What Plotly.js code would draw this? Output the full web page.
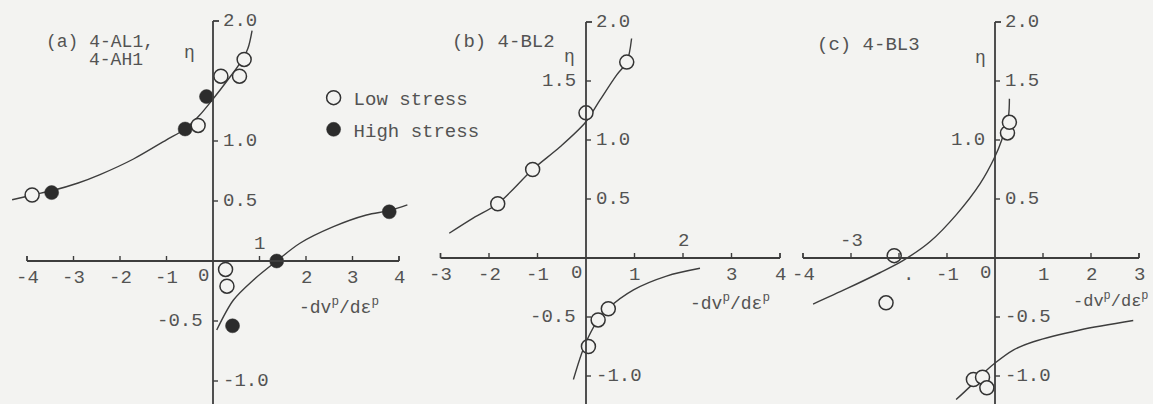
<!DOCTYPE html>
<html>
<head>
<meta charset="utf-8">
<script src="https://cdn.plot.ly/plotly-3.0.1.min.js"></script>
<style>
  html, body { margin: 0; padding: 0; background: #f3f3f1; }
  #chart { width: 1153px; height: 404px; }
</style>
</head>
<body>
<div id="chart"></div>
<script>
// ---- Panel (a): 4-AL1, 4-AH1 ----
const aLowX  = [-3.89, -0.32, 0.17, 0.57, 0.67, 0.27, 0.30];
const aLowY  = [0.55, 1.13, 1.54, 1.54, 1.68, -0.07, -0.21];
const aHighX = [-3.47, -0.60, -0.14, 1.37, 3.79, 0.42];
const aHighY = [0.57, 1.10, 1.37, 0.00, 0.41, -0.54];
const aUpperX = [-4.32, -3.89, -3.47, -2.90, -2.43, -1.71, -1.00, -0.60, -0.30, 0.00, 0.30, 0.60, 0.75, 0.84];
const aUpperY = [0.51, 0.55, 0.585, 0.65, 0.72, 0.85, 1.01, 1.10, 1.21, 1.35, 1.50, 1.66, 1.77, 1.92];
const aLowerX = [0.08, 0.44, 0.87, 1.37, 1.87, 2.59, 3.30, 3.79, 4.18];
const aLowerY = [-0.575, -0.325, -0.158, 0.00, 0.148, 0.286, 0.383, 0.42, 0.467];

// ---- Panel (b): 4-BL2 ----
const bLowX = [-1.82, -1.10, 0.00, 0.84, 0.46, 0.25, 0.05];
const bLowY = [0.46, 0.75, 1.23, 1.66, -0.43, -0.525, -0.75];
const bUpperX = [-2.82, -2.32, -1.82, -1.10, -0.54, -0.01, 0.29, 0.63, 0.84, 0.94];
const bUpperY = [0.21, 0.34, 0.46, 0.75, 0.94, 1.15, 1.34, 1.55, 1.66, 1.86];
const bLowerX = [-0.26, -0.09, 0.05, 0.25, 0.46, 0.98, 1.66, 2.35];
const bLowerY = [-1.03, -0.81, -0.67, -0.525, -0.426, -0.27, -0.153, -0.087];

// ---- Panel (c): 4-BL3 ----
const cLowX = [-2.10, -2.27, 0.26, 0.30, -0.45, -0.26, -0.17];
const cLowY = [0.02, -0.38, 1.06, 1.15, -1.03, -1.01, -1.10];
const cUpperX = [-3.79, -3.09, -2.40, -1.91, -1.35, -0.80, -0.31, 0.00, 0.14, 0.28, 0.30];
const cUpperY = [-0.39, -0.26, -0.125, -0.02, 0.14, 0.37, 0.63, 0.86, 1.00, 1.20, 1.35];
const cLowerX = [-0.81, -0.52, -0.17, 0.00, 0.38, 0.80, 1.77, 2.88];
const cLowerY = [-1.20, -1.09, -0.95, -0.89, -0.78, -0.71, -0.61, -0.53];

// ---- Axis ticks and labels ----
const aXTicks = [-4, -3, -2, -1, 1, 2, 3, 4];
const aXLabelsBelow = [-4, -3, -2, -1, 2, 3, 4];
const aXLabelsAbove = [1];
const aYTicks = [1.0, 0.5, -0.5, -1.0];
const aYLabelsRight = ['2.0', '1.0', '0.5', '-1.0'];
const aYLabelsLeft = ['-0.5'];

const bXTicks = [-3, -2, -1, 1, 2, 3, 4];
const bXLabelsBelow = [-3, -2, -1, 1, 3, 4];
const bXLabelsAbove = [2];
const bYTicks = [1.5, 1.0, 0.5, -0.5, -1.0];
const bYLabelsRight = ['2.0', '1.0', '0.5', '-1.0'];
const bYLabelsLeft = ['1.5', '-0.5'];

const cXTicks = [-4, -3, -2, -1, 1, 2, 3];
const cXLabelsBelow = [-4, -1, 1, 2, 3];
const cXLabelsAbove = [-3];
const cYTicks = [1.5, 1.0, 0.5, -0.5, -1.0];
const cYLabelsRight = ['2.0', '1.5', '0.5', '-0.5', '-1.0'];
const cYLabelsLeft = ['1.0'];

const INK = '#3d3d3d';
const TEXT = '#535353';
const BG = '#f3f3f1';
const FONT = 'Liberation Mono, DejaVu Sans Mono, monospace';

function curve(x, y, ax) {
  return { x, y, xaxis: 'x' + ax, yaxis: 'y' + ax, type: 'scatter', mode: 'lines',
    line: { color: INK, width: 1.4, shape: 'spline', smoothing: 0.9 },
    showlegend: false, hoverinfo: 'skip' };
}
function openPts(x, y, ax, legend) {
  return { x, y, xaxis: 'x' + ax, yaxis: 'y' + ax, type: 'scatter', mode: 'markers',
    name: 'Low stress', legendgroup: 'low', showlegend: !!legend,
    marker: { symbol: 'circle', size: 14, color: BG, line: { color: '#333', width: 1.5 } } };
}
function filledPts(x, y, ax, legend) {
  return { x, y, xaxis: 'x' + ax, yaxis: 'y' + ax, type: 'scatter', mode: 'markers',
    name: 'High stress', legendgroup: 'high', showlegend: !!legend,
    marker: { symbol: 'circle', size: 14, color: '#2c2c2c', line: { color: '#2c2c2c', width: 0.5 } } };
}

const traces = [
  curve(aUpperX, aUpperY, ''), curve(aLowerX, aLowerY, ''),
  curve(bUpperX, bUpperY, '2'), curve(bLowerX, bLowerY, '2'),
  curve(cUpperX, cUpperY, '3'), curve(cLowerX, cLowerY, '3'),
  openPts(aLowX, aLowY, '', true), filledPts(aHighX, aHighY, '', true),
  openPts(bLowX, bLowY, '2'), openPts(cLowX, cLowY, '3')
];

const shapes = [];
const annotations = [];

function axisFrame(ax, xStart, xEnd, xTicks, yTicks) {
  const xr = 'x' + ax, yr = 'y' + ax;
  const ln = { color: INK, width: 1.8 };
  // horizontal axis through the origin
  shapes.push({ type: 'line', xref: xr, yref: yr, x0: xStart, x1: xEnd, y0: 0, y1: 0, line: ln });
  // vertical axis from 2.0 downwards
  shapes.push({ type: 'line', xref: xr, yref: yr, x0: 0, x1: 0, y0: 2.0, y1: -1.4, line: ln });
  // corner stub at 2.0
  shapes.push({ type: 'line', xref: xr, yref: yr, xsizemode: 'pixel', xanchor: 0,
    x0: 0, x1: 6, y0: 2.0, y1: 2.0, line: ln });
  // end ticks of the horizontal axis and interior ticks
  [xStart, xEnd].concat(xTicks).forEach(v => {
    shapes.push({ type: 'line', xref: xr, yref: yr, ysizemode: 'pixel', yanchor: 0,
      x0: v, x1: v, y0: 0, y1: 5, line: { color: INK, width: 1.4 } });
  });
  yTicks.forEach(v => {
    shapes.push({ type: 'line', xref: xr, yref: yr, xsizemode: 'pixel', xanchor: 0,
      x0: 0, x1: 5, y0: v, y1: v, line: { color: INK, width: 1.4 } });
  });
}

function txt(ax, x, y, text, o) {
  annotations.push(Object.assign({ xref: 'x' + ax, yref: 'y' + ax, x, y, text, showarrow: false,
    font: { family: FONT, size: 19, color: TEXT }, xanchor: 'center', yanchor: 'middle' }, o || {}));
}

function axisLabels(ax, below, above, right, left) {
  below.forEach(v => txt(ax, v, 0, String(v), { yshift: -17 }));
  above.forEach(v => txt(ax, v, 0, String(v), { yshift: 17 }));
  txt(ax, 0, 0, '0', { xshift: -10, yshift: -15 });
  right.forEach(s => txt(ax, 0, parseFloat(s), s, { xanchor: 'left', xshift: 8 }));
  left.forEach(s => txt(ax, 0, parseFloat(s), s, { xanchor: 'right', xshift: -8 }));
}

axisFrame('', -4, 4, aXTicks, aYTicks);
axisFrame('2', -3, 4, bXTicks, bYTicks);
axisFrame('3', -4, 3, cXTicks, cYTicks);

axisLabels('', aXLabelsBelow, aXLabelsAbove, aYLabelsRight, aYLabelsLeft);
axisLabels('2', bXLabelsBelow, bXLabelsAbove, bYLabelsRight, bYLabelsLeft);
axisLabels('3', cXLabelsBelow, cXLabelsAbove, cYLabelsRight, cYLabelsLeft);
txt('3', -1.8, 0, '.', { yshift: -17 });

// panel titles
const titleFont = { family: FONT, size: 18, color: TEXT };
txt('', -3.63, 1.825, '(a) 4-AL1,', { xanchor: 'left', font: titleFont });
txt('', -2.70, 1.675, '4-AH1', { xanchor: 'left', font: titleFont });
txt('2', -2.80, 1.83, '(b) 4-BL2', { xanchor: 'left' });
txt('3', -3.75, 1.805, '(c) 4-BL3', { xanchor: 'left' });

// η labels
txt('', -0.50, 1.73, 'η', { font: titleFont });
txt('2', -0.35, 1.70, 'η', { font: titleFont });
txt('3', -0.31, 1.695, 'η', { font: titleFont });

// horizontal-axis titles
const xTitle = '-dv<sup>p</sup>/dε<sup>p</sup>';
txt('', 1.80, -0.38, xTitle, { xanchor: 'left', font: titleFont });
txt('2', 2.10, -0.38, xTitle, { xanchor: 'left', font: titleFont });
txt('3', 1.58, -0.355, xTitle, { xanchor: 'left', font: { family: FONT, size: 17, color: TEXT } });

const hidden = { visible: false, showgrid: false, zeroline: false, fixedrange: true };

const layout = {
  width: 1153, height: 404,
  margin: { l: 0, r: 0, t: 0, b: 0, pad: 0 },
  paper_bgcolor: BG, plot_bgcolor: BG,
  showlegend: true,
  legend: { x: 0.272, y: 0.805, xanchor: 'left', yanchor: 'top', bgcolor: 'rgba(0,0,0,0)',
    font: { family: FONT, size: 19, color: TEXT }, traceorder: 'grouped', tracegroupgap: 4,
    itemclick: false, itemdoubleclick: false },
  xaxis:  Object.assign({ domain: [0, 420 / 1153], range: [-4.5806, 4.4516], anchor: 'y' }, hidden),
  yaxis:  Object.assign({ domain: [0, 1], range: [-1.1917, 2.175], anchor: 'x' }, hidden),
  xaxis2: Object.assign({ domain: [420 / 1153, 790 / 1153], range: [-3.4227, 4.2062], anchor: 'y2' }, hidden),
  yaxis2: Object.assign({ domain: [0, 1], range: [-1.2373, 2.1864], anchor: 'x2' }, hidden),
  xaxis3: Object.assign({ domain: [790 / 1153, 1], range: [-4.2708, 3.2917], anchor: 'y3' }, hidden),
  yaxis3: Object.assign({ domain: [0, 1], range: [-1.2373, 2.1864], anchor: 'x3' }, hidden),
  shapes, annotations
};

Plotly.newPlot('chart', traces, layout, { staticPlot: true, displayModeBar: false });
</script>
</body>
</html>
